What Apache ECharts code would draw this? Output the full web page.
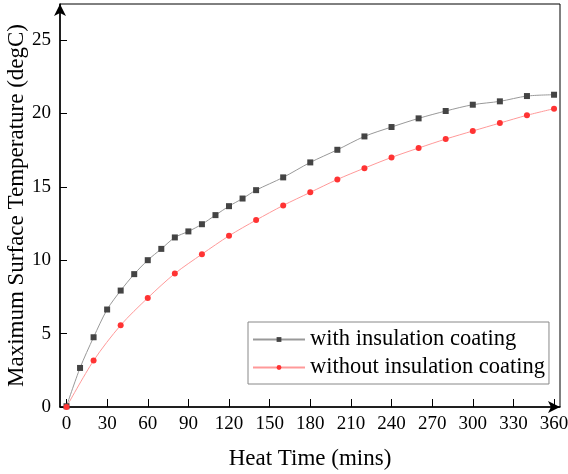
<!DOCTYPE html>
<html>
<head>
<meta charset="utf-8">
<script src="https://cdn.jsdelivr.net/npm/echarts@6/dist/echarts.min.js"></script>
<style>
html, body { margin: 0; padding: 0; background: #fff; }
#main { width: 568px; height: 474px; }
</style>
</head>
<body>
<div id="main"></div>
<script>
var timeWith = [0, 10, 20, 30, 40, 50, 60, 70, 80, 90, 100, 110, 120, 130, 140,
    160, 180, 200, 220, 240, 260, 280, 300, 320, 340, 360];
var tempWith = [0.05, 2.66, 4.75, 6.64, 7.93, 9.05, 10.0, 10.77, 11.55, 11.96, 12.45, 13.07, 13.68, 14.2, 14.77,
    15.64, 16.66, 17.52, 18.43, 19.07, 19.66, 20.16, 20.59, 20.82, 21.18, 21.27];
var timeWithout = [0, 20, 40, 60, 80, 100, 120, 140, 160, 180, 200, 220, 240, 260, 280, 300, 320, 340, 360];
var tempWithout = [0, 3.16, 5.57, 7.43, 9.09, 10.41, 11.66, 12.73, 13.73, 14.62, 15.5, 16.27, 17.0, 17.64,
    18.25, 18.8, 19.34, 19.87, 20.32];
var xTicks = [0, 30, 60, 90, 120, 150, 180, 210, 240, 270, 300, 330, 360];
var yTicks = [0, 5, 10, 15, 20, 25];

function pairs(xs, ys) {
    var out = [];
    for (var i = 0; i < xs.length; i++) {
        out.push([xs[i], ys[i]]);
    }
    return out;
}

var font = 'Liberation Serif';

var option = {
    backgroundColor: '#fff',
    animation: false,
    grid: {
        left: 60,
        right: 8,
        top: 4,
        bottom: 67,
        outerBoundsMode: 'none',
        show: true,
        borderColor: '#000',
        borderWidth: 1
    },
    legend: {
        orient: 'vertical',
        left: 248,
        top: 322,
        padding: [6, 4, 5, 4],
        itemGap: 5,
        itemWidth: 52,
        itemHeight: 6,
        borderColor: '#888',
        borderWidth: 1,
        textStyle: { fontFamily: font, fontSize: 22.5, color: '#000' },
        data: ['with insulation coating', 'without insulation coating']
    },
    xAxis: {
        type: 'value',
        min: -4.8,
        max: 364.4,
        name: 'Heat Time (mins)',
        nameLocation: 'middle',
        nameGap: 40,
        nameMoveOverlap: false,
        nameTextStyle: { fontFamily: font, fontSize: 23, color: '#000' },
        splitLine: { show: false },
        axisLine: {
            onZero: false,
            symbol: ['none', 'arrow'],
            symbolSize: [9, 12],
            lineStyle: { color: '#000', width: 1.5 }
        },
        axisTick: { inside: true, length: 8, customValues: xTicks, lineStyle: { color: '#000' } },
        axisLabel: {
            customValues: xTicks,
            margin: 8,
            fontFamily: font,
            fontSize: 19,
            color: '#000'
        }
    },
    yAxis: {
        type: 'value',
        min: 0,
        max: 27.45,
        name: 'Maximum Surface Temperature (degC)',
        nameLocation: 'middle',
        nameGap: 32,
        nameMoveOverlap: false,
        nameTextStyle: { fontFamily: font, fontSize: 23, color: '#000' },
        splitLine: { show: false },
        axisLine: {
            onZero: false,
            symbol: ['none', 'arrow'],
            symbolSize: [9, 12],
            lineStyle: { color: '#000', width: 1.5 }
        },
        axisTick: { inside: true, length: 7, customValues: yTicks, lineStyle: { color: '#000' } },
        axisLabel: {
            customValues: yTicks,
            margin: 9,
            fontFamily: font,
            fontSize: 19,
            color: '#000'
        }
    },
    series: [
        {
            name: 'with insulation coating',
            type: 'line',
            data: pairs(timeWith, tempWith),
            smooth: 0.3,
            symbol: 'rect',
            symbolSize: 6,
            itemStyle: { color: '#444' },
            lineStyle: { color: '#999', width: 1 }
        },
        {
            name: 'without insulation coating',
            type: 'line',
            data: pairs(timeWithout, tempWithout),
            smooth: 0.3,
            symbol: 'circle',
            symbolSize: 6,
            itemStyle: { color: '#f33' },
            lineStyle: { color: '#f99', width: 1 }
        }
    ]
};

var chart = echarts.init(document.getElementById('main'));
chart.setOption(option);
</script>
</body>
</html>
